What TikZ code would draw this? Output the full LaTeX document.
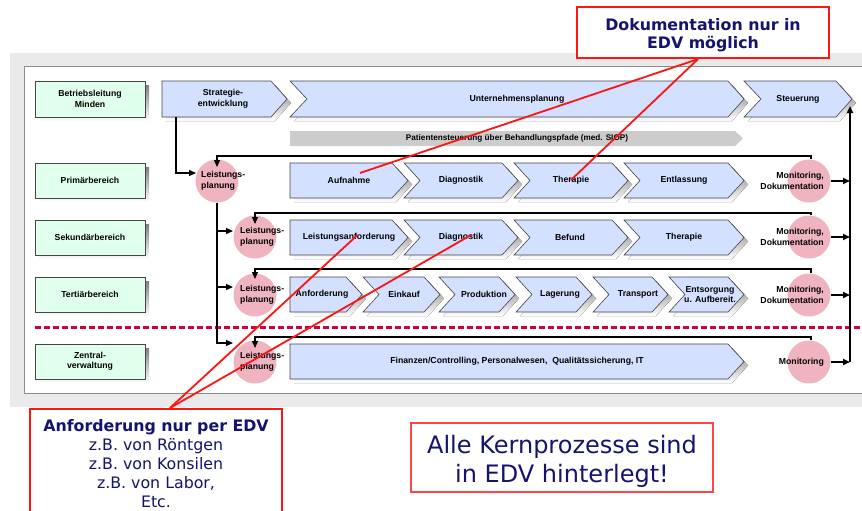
\documentclass[tikz,border=0pt]{standalone}
\usepackage{fontspec}
\setmainfont{Liberation Sans}
\newfontfamily\notefont{DejaVu Sans}
\usetikzlibrary{arrows.meta,calc}

\definecolor{chevfill}{RGB}{211,224,255}
\definecolor{areafill}{RGB}{224,255,236}
\definecolor{edgegray}{RGB}{70,70,70}
\definecolor{shade}{RGB}{128,128,128}
\definecolor{pinkdot}{RGB}{240,180,192}
\definecolor{navytext}{RGB}{20,20,110}
\definecolor{callred}{RGB}{255,20,20}
\definecolor{callredlight}{RGB}{255,70,70}
\definecolor{crimsondash}{RGB}{210,0,60}
\definecolor{bggray}{RGB}{234,234,234}
\definecolor{framegray}{RGB}{140,140,140}
\definecolor{pathgray}{RGB}{204,204,204}

\tikzset{
  lbl/.style={font=\bfseries\fontsize{8.7}{10.5}\selectfont, align=center, inner sep=0pt, text=black},
  chevbody/.style={fill=chevfill, draw=edgegray, line width=0.6pt},
  dot/.style={circle, fill=pinkdot, minimum size=43pt, inner sep=0pt},
  conn/.style={draw=black, line width=1.2pt, -{Triangle[length=7pt,width=6pt]}},
  busarrow/.style={draw=black, line width=2pt, -{Triangle[length=7pt,width=6pt]}},
  pointer/.style={draw=callred, line width=1.8pt},
  notebox/.style={draw=callred, line width=2.2pt, fill=white, inner sep=0pt},
  notetext/.style={text=navytext, align=center, inner sep=0pt},
}

% process chevron: name, left x, tip x, top y, bottom y, notch depth, text x, text
\newcommand\chevron[8]{%
  \begin{scope}[shift={(4,4)}]
    \fill[shade] (#2,#4) -- ({#3-16},#4) -- (#3,{(#4+#5)/2}) -- ({#3-16},#5)
      -- (#2,#5) -- ({#2+#6},{(#4+#5)/2}) -- cycle;
  \end{scope}
  \draw[chevbody] (#2,#4) -- ({#3-16},#4) -- (#3,{(#4+#5)/2}) -- ({#3-16},#5)
      -- (#2,#5) -- ({#2+#6},{(#4+#5)/2}) -- cycle;
  \coordinate (#1 sw) at (#2,#5);
  \coordinate (#1 se) at ({#3-16},#5);
  \node[lbl] (#1) at (#7,{(#4+#5)/2}) {#8};
}

% area label box on the left: name, top y, bottom y, text
\newcommand\areabox[4]{%
  \fill[shade] (39,{#2+4}) rectangle (149,{#3+4});
  \node[lbl, fill=areafill, draw=edgegray, line width=0.6pt,
        minimum width=110pt, minimum height={#3-#2}] (#1) at (90,{(#2+#3)/2}) {#4};
}

\begin{document}
\begin{tikzpicture}[x=1pt,y=-1pt]
\useasboundingbox (0,0) rectangle (862,511);
\clip (0,0) rectangle (862,511);

% backdrop and frame
\fill[bggray] (10,53) rectangle (870,407);
\draw[framegray, line width=1pt, fill=white] (24,67) rectangle (880,393);

% separator between core areas and administration
\draw[crimsondash, line width=3pt, dash pattern=on 5.5pt off 3.5pt] (35,327) -- (870,327);

% areas
\areabox{bl}{81}{117}{Betriebsleitung\\Minden}
\areabox{prim}{163}{198}{Primärbereich}
\areabox{sek}{220}{255}{Sekundärbereich}
\areabox{tert}{277}{312}{Tertiärbereich}
\areabox{zv}{344}{379}{Zentral-\\verwaltung}

% management row
\chevron{strat}{162}{287}{81}{117}{0}{223}{Strategie-\\entwicklung}
\chevron{uplan}{290}{744}{81}{117}{17}{517}{Unternehmensplanung}
\chevron{steu}{744}{852}{81}{117}{17}{798}{Steuerung}

% patient pathway bar
\fill[pathgray] (290,131) -- (735,131) -- (743,138.5) -- (735,146) -- (290,146) -- cycle;
\node[lbl, font=\bfseries\fontsize{8.2}{10}\selectfont] (pst) at (517,138.5)
  {Patientensteuerung über Behandlungspfade (med. SIOP)};

% primary processes
\chevron{aufn}{290}{408}{163}{198}{0}{349}{Aufnahme}
\chevron{diag1}{404}{518}{163}{198}{16}{461}{Diagnostik}
\chevron{ther1}{514}{628}{163}{198}{16}{571}{Therapie}
\chevron{entl}{624}{744}{163}{198}{16}{684}{Entlassung}

% secondary processes
\chevron{lanf}{290}{408}{220}{255}{0}{349}{Leistungsanforderung}
\chevron{diag2}{404}{518}{220}{255}{16}{461}{Diagnostik}
\chevron{bef}{514}{628}{220}{255}{16}{570}{Befund}
\chevron{ther2}{624}{744}{220}{255}{16}{684}{Therapie}

% tertiary processes
\chevron{anfo}{290}{362}{277}{312}{0}{322}{Anforderung}
\chevron{eink}{363}{440}{277}{312}{16}{404}{Einkauf}
\chevron{prod}{439}{515}{277}{312}{16}{484}{Produktion}
\chevron{lag}{516}{592}{277}{312}{16}{560}{Lagerung}
\chevron{trans}{593}{668}{277}{312}{16}{638}{Transport}
\chevron{ents}{669}{744}{277}{312}{16}{710}{Entsorgung\\u. Aufbereit.}

% administration
\chevron{fin}{290}{744}{344}{379}{0}{517}{Finanzen/Controlling, Personalwesen,\ \ Qualitätssicherung, IT}

% planning and monitoring circles
\node[dot] (lp1) at (217,181) {};
\node[dot] (lp2) at (255,237) {};
\node[dot] (lp3) at (255,295) {};
\node[dot] (lp4) at (255,362) {};
\node[dot] (mon1) at (809,181) {};
\node[dot] (mon2) at (809,237) {};
\node[dot] (mon3) at (809,295) {};
\node[dot] (mon4) at (809,362) {};

% planning chain
\draw[conn] ($(strat sw)+(14,0)$) |- ($(lp1.center)+(-21,-8)$);
\draw[conn] (lp1.south) |- ($(lp2.center)+(-22,-6)$);
\draw[conn] (lp1.south) |- ($(lp3.center)+(-22,-8)$);
\draw[conn] (lp1.south) |- ($(lp4.center)+(-22,-19)$);

% feedback from monitoring to planning
\draw[conn] ($(mon1.north)+(2,0)$) |- ($(lp1.center)+(0,-25)$) -- ($(lp1.center)+(0,-14)$);
\draw[conn] ($(mon2.north)+(2,0)$) |- ($(lp2.center)+(0,-24)$) -- ($(lp2.center)+(0,-13)$);
\draw[conn] ($(mon3.north)+(2,0)$) |- ($(lp3.center)+(0,-26)$) -- ($(lp3.center)+(0,-16)$);
\draw[conn] ($(mon4.north)+(2,0)$) |- ($(lp4.center)+(0,-25)$) -- ($(lp4.center)+(0,-14)$);

% reporting bus to Steuerung
\coordinate (busfoot) at (850,362);
\draw[busarrow] (mon1.east) -- (mon1.east -| busfoot);
\draw[busarrow] (mon2.east) -- (mon2.east -| busfoot);
\draw[busarrow] (mon3.east) -- (mon3.east -| busfoot);
\draw[busarrow] (mon4.east) -- (busfoot);
\draw[busarrow] (busfoot) -- ($(steu se)+(14,-11)$);

% circle texts
\node[lbl, align=left, anchor=west] (lp1t) at ($(lp1.center)+(-16,0)$) {Leistungs-\\planung};
\node[lbl, align=left, anchor=west] (lp2t) at ($(lp2.center)+(-15,0)$) {Leistungs-\\planung};
\node[lbl, align=left, anchor=west] (lp3t) at ($(lp3.center)+(-15,0)$) {Leistungs-\\planung};
\node[lbl, align=left, anchor=west] (lp4t) at ($(lp4.center)+(-15,0)$) {Leistungs-\\planung};
\node[lbl, align=right, anchor=east] (mon1t) at ($(mon1.center)+(15,0)$) {Monitoring,\\Dokumentation};
\node[lbl, align=right, anchor=east] (mon2t) at ($(mon2.center)+(15,0)$) {Monitoring,\\Dokumentation};
\node[lbl, align=right, anchor=east] (mon3t) at ($(mon3.center)+(15,0)$) {Monitoring,\\Dokumentation};
\node[lbl, align=right, anchor=east] (mon4t) at ($(mon4.center)+(15,0)$) {Monitoring};

% callout frames
\node[notebox, minimum width=252, minimum height=51] (doc) at (703,32.5) {};
\node[notebox, minimum width=252, minimum height=125, anchor=north] (anf) at (156,408) {};
\node[notebox, draw=callredlight, line width=1.5pt, minimum width=302, minimum height=69] (alle) at (562,457.5) {};

% callout pointers
\draw[pointer] ($(doc.south)+(-5,0)$) -- ($(aufn.center)+(11,-7.5)$);
\draw[pointer] ($(doc.south)+(-5,0)$) -- ($(ther1.center)+(0,-0.5)$);
\draw[pointer] ($(anf.north)+(14,0)$) -- ($(lanf.center)+(8.5,-2.5)$);
\draw[pointer] ($(anf.north)+(14,0)$) -- ($(diag2.center)+(10,-2.5)$);

% callout texts
\node[notetext, font=\notefont\bfseries\fontsize{15.8}{18}\selectfont] (doctext)
  at ($(doc.center)+(0,2.4)$) {Dokumentation nur in\\EDV möglich};
\node[notetext, anchor=north, font=\notefont\fontsize{15.8}{19}\selectfont] (anftext)
  at ($(anf.north)+(0,11)$) {\textbf{Anforderung nur per EDV}\\z.B. von Röntgen\\z.B. von Konsilen\\z.B. von Labor,\\Etc.};
\node[notetext, font=\notefont\fontsize{24}{29}\selectfont] (alletext)
  at ($(alle.center)+(0,4)$) {Alle Kernprozesse sind\\in EDV hinterlegt!};
\end{tikzpicture}
\end{document}
